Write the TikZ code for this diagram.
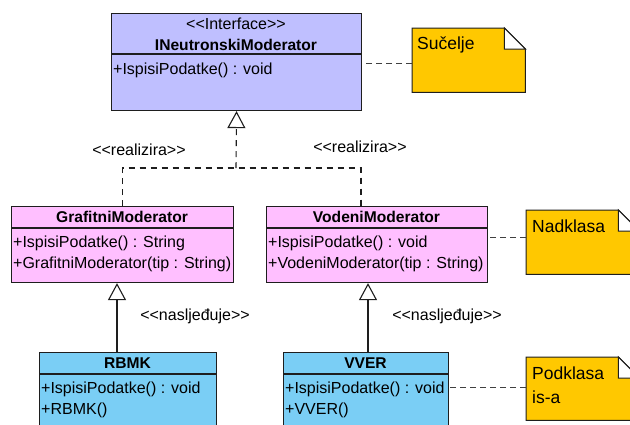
\documentclass[tikz,border=0pt]{standalone}
\usepackage{fontspec}
\newfontfamily\arialf{Liberation Sans}
\usetikzlibrary{arrows.meta}
\definecolor{ifc}{RGB}{191,191,255}
\definecolor{pnk}{RGB}{255,191,255}
\definecolor{blu}{RGB}{122,206,245}
\definecolor{ntc}{RGB}{255,200,0}
\definecolor{edge}{RGB}{30,30,30}
\begin{document}
\begin{tikzpicture}[x=1pt,y=-1pt,
  font=\arialf\fontsize{16}{18}\selectfont,
  classbox/.style={draw=edge, line width=1.1pt, anchor=north west, inner sep=0pt},
  divider/.style={draw=edge, line width=1.1pt},
  mtext/.style={anchor=west, inner sep=0pt},
  ctitle/.style={inner sep=0pt, font=\arialf\fontsize{15.6}{18}\selectfont\bfseries},
  stereo/.style={inner sep=0pt},
  notebox/.style={anchor=north west, inner sep=0pt, draw=none},
  notedraw/.style={draw=edge, line width=1pt, fill=ntc},
  foldstyle/.style={draw=edge, line width=1pt, fill=white},
  ntext/.style={anchor=west, inner sep=0pt, font=\arialf\fontsize{17.5}{20}\selectfont},
  link/.style={draw=black!75, line width=1pt, dash pattern=on 6pt off 4pt},
  realize/.style={draw=edge, line width=1.1pt, dash pattern=on 6pt off 5pt},
  inherit/.style={draw=edge, line width=1.1pt},
  openarrow/.style={-{Triangle[length=17pt,width=18pt,fill=white,line width=1.1pt]}}
]
\useasboundingbox (0,0) rectangle (630,424);
\clip (0,0) rectangle (630,424);

% ---- Interface
\node[classbox, fill=ifc, minimum width=250pt, minimum height=97pt] (iface) at (111,13) {};
\draw[divider] (111,54) -- (361,54);
\node[stereo] (ifst) at (236,24) {<<Interface>>};
\node[ctitle] (ifti) at (236,45) {INeutronskiModerator};
\node[mtext] (ifm1) at (113,70) {+IspisiPodatke() : void};

% ---- GrafitniModerator
\node[classbox, fill=pnk, minimum width=222pt, minimum height=76pt] (graf) at (11,206) {};
\draw[divider] (11,228) -- (233,228);
\node[ctitle] (grti) at (122,217) {GrafitniModerator};
\node[mtext] (grm1) at (13,243) {+IspisiPodatke() : String};
\node[mtext] (grm2) at (13,264) {+GrafitniModerator(tip : String)};

% ---- VodeniModerator
\node[classbox, fill=pnk, minimum width=221pt, minimum height=76pt] (vod) at (266,206) {};
\draw[divider] (266,228) -- (487,228);
\node[ctitle] (voti) at (376.5,217) {VodeniModerator};
\node[mtext] (vom1) at (268,243) {+IspisiPodatke() : void};
\node[mtext] (vom2) at (268,264) {+VodeniModerator(tip : String)};

% ---- RBMK
\node[classbox, fill=blu, minimum width=177pt, minimum height=90pt] (rbmk) at (39,352) {};
\draw[divider] (39,374) -- (216,374);
\node[ctitle] (rbti) at (127.5,363) {RBMK};
\node[mtext] (rbm1) at (41,389) {+IspisiPodatke() : void};
\node[mtext] (rbm2) at (41,410) {+RBMK()};

% ---- VVER
\node[classbox, fill=blu, minimum width=165pt, minimum height=90pt] (vver) at (283,352) {};
\draw[divider] (283,374) -- (448,374);
\node[ctitle] (vvti) at (365.5,363) {VVER};
\node[mtext] (vvm1) at (285,389) {+IspisiPodatke() : void};
\node[mtext] (vvm2) at (285,410) {+VVER()};

% ---- Notes
\node[notebox, minimum width=113pt, minimum height=64pt] (suc) at (412,28) {};
\draw[notedraw] (suc.north west) -- ([xshift=-21pt]suc.north east) -- ([yshift=-21pt]suc.north east) -- (suc.south east) -- (suc.south west) -- cycle;
\draw[foldstyle] ([xshift=-21pt]suc.north east) -- ([xshift=-21pt,yshift=-21pt]suc.north east) -- ([yshift=-21pt]suc.north east) -- cycle;
\node[ntext] (suct) at ([xshift=5pt,yshift=-17pt]suc.north west) {Sučelje};

\node[notebox, minimum width=113pt, minimum height=64pt] (nad) at (526,210) {};
\draw[notedraw] (nad.north west) -- ([xshift=-21pt]nad.north east) -- ([yshift=-21pt]nad.north east) -- (nad.south east) -- (nad.south west) -- cycle;
\draw[foldstyle] ([xshift=-21pt]nad.north east) -- ([xshift=-21pt,yshift=-21pt]nad.north east) -- ([yshift=-21pt]nad.north east) -- cycle;
\node[ntext] (nadt) at ([xshift=6pt,yshift=-16pt]nad.north west) {Nadklasa};

\node[notebox, minimum width=113pt, minimum height=63pt] (pod) at (526,357) {};
\draw[notedraw] (pod.north west) -- ([xshift=-21pt]pod.north east) -- ([yshift=-21pt]pod.north east) -- (pod.south east) -- (pod.south west) -- cycle;
\draw[foldstyle] ([xshift=-21pt]pod.north east) -- ([xshift=-21pt,yshift=-21pt]pod.north east) -- ([yshift=-21pt]pod.north east) -- cycle;
\node[ntext] (podt1) at ([xshift=6pt,yshift=-16pt]pod.north west) {Podklasa};
\node[ntext] (podt2) at ([xshift=6pt,yshift=-40pt]pod.north west) {is-a};

% ---- Note links
\draw[link] ([yshift=-3pt]suc.west) -- ([yshift=-3pt]suc.west -| iface.east);
\draw[link] ([yshift=5pt]nad.west) -- ([yshift=5pt]nad.west -| vod.east);
\draw[link] ([yshift=1.5pt]pod.west) -- ([yshift=1.5pt]pod.west -| vver.east);

% ---- Realization
\coordinate (join) at (236,168);
\coordinate (vtop) at (361,206);
\draw[realize] (graf.north) |- (join) -- (join -| vtop) -- (vtop);
\draw[realize, openarrow] (join) -- (iface.south);
\node[stereo] (rl1) at (139,150) {<<realizira>>};
\node[stereo] (rl2) at (360,147) {<<realizira>>};

% ---- Inheritance
\coordinate (rtop) at (117,352);
\coordinate (vvtop) at (368,352);
\draw[inherit, openarrow] (rtop) -- (rtop |- graf.south);
\draw[inherit, openarrow] (vvtop) -- (vvtop |- vod.south);
\node[stereo] (nl1) at (195,316) {<<nasljeđuje>>};
\node[stereo] (nl2) at (447,316) {<<nasljeđuje>>};
\end{tikzpicture}
\end{document}
